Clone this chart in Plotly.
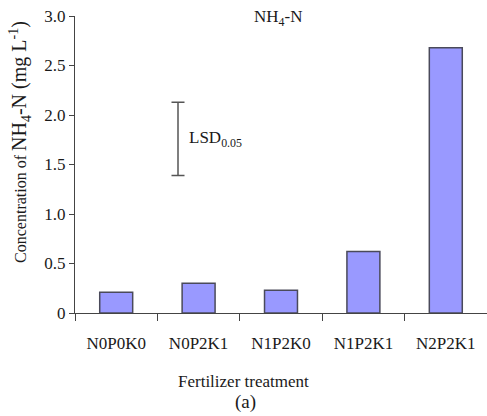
import plotly.graph_objects as go

# treatments and measured NH4-N concentration (mg/L)
treatments = ["N0P0K0", "N0P2K1", "N1P2K0", "N1P2K1", "N2P2K1"]
nh4_values = [0.21, 0.30, 0.23, 0.62, 2.68]

# LSD bar (centre and half length), placed between first two groups
lsd_x = [0.75]
lsd_center = [1.76]
lsd_half = [0.37]

y_tickvals = [0, 0.5, 1.0, 1.5, 2.0, 2.5, 3.0]
y_ticktext = ["0", "0.5", "1.0", "1.5", "2.0", "2.5", "3.0"]

serif = "Liberation Serif, Times New Roman, serif"
axis_col = "#444444"

fig = go.Figure()

fig.add_trace(
    go.Bar(
        x=list(range(len(treatments))),
        y=nh4_values,
        width=0.4,
        marker=dict(color="#9999ff", line=dict(color="#4a4a5a", width=1.5)),
        showlegend=False,
    )
)

fig.add_trace(
    go.Scatter(
        x=lsd_x,
        y=lsd_center,
        mode="markers",
        marker=dict(size=0.1, color="rgba(0,0,0,0)"),
        error_y=dict(type="data", array=lsd_half, color="#555555",
                     thickness=1.5, width=6.5),
        showlegend=False,
    )
)

fig.update_layout(
    width=487,
    height=416,
    margin=dict(l=75, r=0, t=16, b=103),
    plot_bgcolor="white",
    paper_bgcolor="white",
    font=dict(family=serif, size=17, color="#1a1a1a"),
    xaxis=dict(
        range=[-0.5, 4.5],
        tickvals=list(range(len(treatments))),
        ticktext=treatments,
        ticks="",
        ticklabelstandoff=14,
        showgrid=False,
        zeroline=False,
        showline=True,
        linecolor=axis_col,
        linewidth=1.2,
        tickfont=dict(size=17),
        minor=dict(
            tickvals=[i - 0.5 for i in range(len(treatments) + 1)],
            ticks="outside",
            ticklen=7,
            tickcolor=axis_col,
            tickwidth=1.2,
            showgrid=False,
        ),
    ),
    yaxis=dict(
        range=[0, 3.0],
        tickvals=y_tickvals,
        ticktext=y_ticktext,
        ticks="outside",
        ticklen=5,
        tickcolor=axis_col,
        tickwidth=1.2,
        ticklabeloverflow="allow",
        showgrid=False,
        zeroline=False,
        showline=True,
        linecolor=axis_col,
        linewidth=1.2,
        tickfont=dict(size=17),
    ),
    annotations=[
        dict(
            text="NH<sub>4</sub>-N",
            xref="paper", yref="paper",
            x=0.493, y=0.993,
            xanchor="center", yanchor="middle",
            showarrow=False, font=dict(size=17),
        ),
        dict(
            text="LSD<sub>0.05</sub>",
            xref="x", yref="y",
            x=0.86, y=1.76,
            xanchor="left", yanchor="middle",
            showarrow=False, font=dict(size=17),
        ),
        dict(
            text="<span style='font-size:16px'>Concentration of </span>NH<sub>4</sub>-N (mg L<sup>-1</sup>)",
            xref="paper", yref="paper",
            x=-0.1335, y=0.576,
            xanchor="center", yanchor="middle",
            textangle=-90,
            showarrow=False, font=dict(size=20),
        ),
        dict(
            text="Fertilizer treatment",
            xref="paper", yref="paper",
            x=0.408, y=-0.229,
            xanchor="center", yanchor="middle",
            showarrow=False, font=dict(size=17),
        ),
        dict(
            text="(a)",
            xref="paper", yref="paper",
            x=0.415, y=-0.300,
            xanchor="center", yanchor="middle",
            showarrow=False, font=dict(size=19),
        ),
    ],
)

# the browser's default 8px body margin would shift the figure off the window
fig.write_html(
    "out.html",
    config={"displayModeBar": False},
    post_script="document.body.style.margin = '0';",
)
